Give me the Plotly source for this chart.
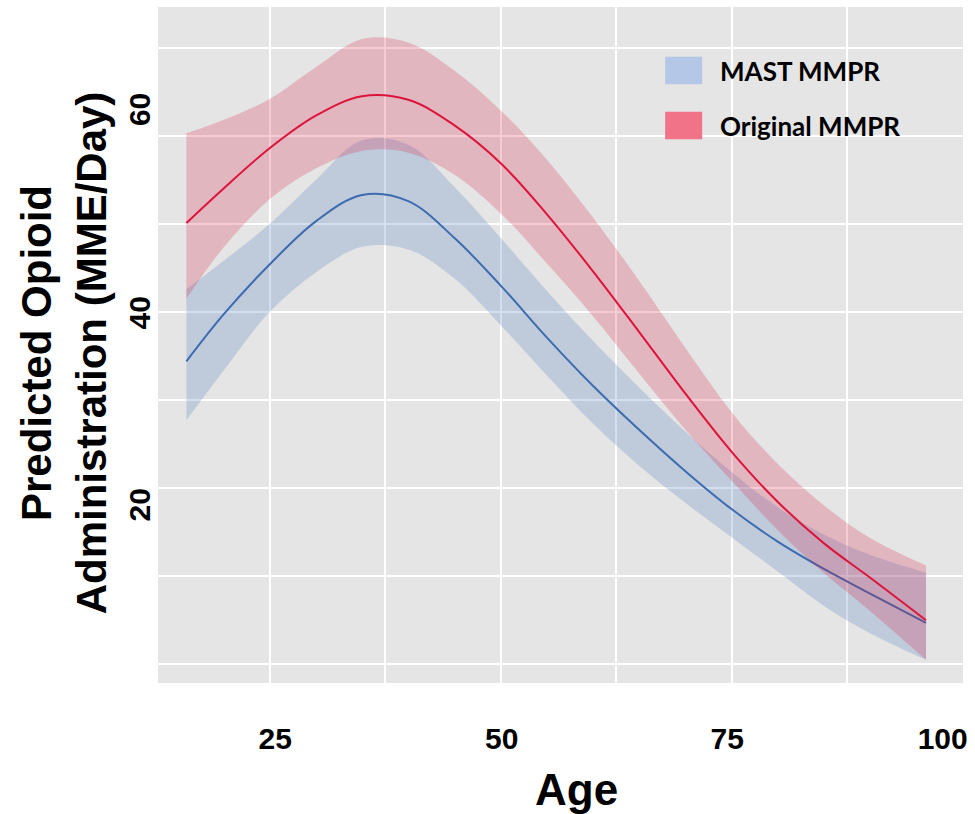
import plotly.graph_objects as go

# ---------------- data ----------------
AGE = [16, 20, 25, 30, 35, 40, 45, 50, 55, 60, 65, 70, 75, 80, 85, 90, 96]

ORIG_FIT = [50.1, 54.0, 58.6, 62.3, 64.5, 64.1, 61.2, 56.9, 51.1, 44.6, 37.7, 30.7, 24.1, 18.4, 13.7, 9.8, 5.0]
ORIG_HI = [60.3, 61.8, 64.2, 67.8, 71.0, 70.6, 67.4, 62.9, 57.3, 50.7, 43.5, 35.9, 28.6, 22.7, 18.0, 14.3, 11.2]
ORIG_LO = [41.5, 47.3, 52.8, 56.3, 58.3, 58.1, 55.6, 51.2, 45.5, 39.5, 33.0, 26.6, 20.8, 15.2, 10.3, 6.0, 0.5]

MAST_FIT = [34.4, 39.7, 45.4, 50.3, 53.3, 52.6, 48.4, 43.0, 37.1, 31.6, 26.6, 21.9, 17.6, 13.9, 10.8, 8.0, 4.7]
MAST_HI = [42.6, 45.8, 50.0, 55.0, 59.5, 59.0, 54.2, 48.4, 42.4, 36.7, 31.4, 26.4, 21.8, 17.8, 14.7, 12.4, 10.4]
MAST_LO = [27.7, 33.3, 40.0, 44.5, 47.4, 47.1, 43.8, 38.5, 32.8, 27.3, 22.5, 18.3, 14.4, 10.5, 6.6, 3.5, 0.5]

SERIES_NAMES = ["MAST MMPR", "Original MMPR"]

X_TICKS = [25, 50, 75, 100]
X_TICK_LABELS = ["25", "50", "75", "100"]
X_GRID = [25, 37.5, 50, 62.5, 75, 87.5, 100]
Y_TICKS = [20, 40, 60]
Y_TICK_LABELS = ["20", "40", "60"]
Y_GRID = [0, 10, 20, 30, 40, 50, 60, 70]

X_TITLE = "Age"
Y_TITLE = "Predicted Opioid<br>Administration (MME/Day)"

# ---------------- styles ----------------
X_RANGE = [12.93, 100.0]
Y_RANGE = [-2.13, 74.64]
X_LABEL_NUDGE = [0.6, 0.1, -0.5, -2.2]   # label placement in the reference
Y_LABEL_NUDGE = [-2.4, -0.6, 2.5]

RED_LINE = "#DC143C"
RED_FILL = "rgba(220,20,60,0.22)"
BLUE_LINE = "#3C6BB0"
BLUE_FILL = "rgba(70,120,190,0.24)"
RED_KEY = "#F07388"
BLUE_KEY = "#B4C7E7"
BG = "#E5E5E5"
FONT = "Liberation Sans, Arial, sans-serif"

fig = go.Figure()


def add_band(name, lo, hi, fit, fill, line):
    fig.add_trace(go.Scatter(x=AGE, y=hi, mode="lines", line=dict(width=0, shape="spline", color=fill),
                             showlegend=False, hoverinfo="skip", name=name + " upper"))
    fig.add_trace(go.Scatter(x=AGE, y=lo, mode="lines", line=dict(width=0, shape="spline", color=fill),
                             fill="tonexty", fillcolor=fill, showlegend=False, hoverinfo="skip",
                             name=name + " lower"))
    fig.add_trace(go.Scatter(x=AGE, y=fit, mode="lines", line=dict(width=2, shape="spline", color=line),
                             showlegend=False, name=name))


add_band(SERIES_NAMES[0], MAST_LO, MAST_HI, MAST_FIT, BLUE_FILL, BLUE_LINE)
add_band(SERIES_NAMES[1], ORIG_LO, ORIG_HI, ORIG_FIT, RED_FILL, RED_LINE)

fig.update_layout(
    width=975, height=814,
    margin=dict(l=158, r=9, t=7, b=131),
    paper_bgcolor="white", plot_bgcolor=BG,
    font=dict(family=FONT, color="black"),
    showlegend=False,
)

fig.update_xaxes(
    range=X_RANGE, showline=False, zeroline=False, ticks="",
    tickvals=[v + d for v, d in zip(X_TICKS, X_LABEL_NUDGE)], ticktext=X_TICK_LABELS,
    tickfont=dict(size=30, family=FONT, weight="bold", color="black"),
    ticklabelstandoff=35,
    showgrid=False,
    minor=dict(tickvals=X_GRID, showgrid=True, gridcolor="white", gridwidth=1.6, ticks=""),
)
fig.update_yaxes(
    range=Y_RANGE, showline=False, zeroline=False, ticks="",
    tickvals=[v + d for v, d in zip(Y_TICKS, Y_LABEL_NUDGE)], ticktext=Y_TICK_LABELS,
    tickangle=-90,
    tickfont=dict(size=30, family=FONT, weight="bold", color="black"),
    ticklabelstandoff=1,
    showgrid=False,
    minor=dict(tickvals=Y_GRID, showgrid=True, gridcolor="white", gridwidth=1.6, ticks=""),
)

# axis titles (placed as in the reference)
fig.add_annotation(text=X_TITLE, xref="paper", yref="paper", x=0.5204, y=-0.158,
                   xanchor="center", yanchor="middle", showarrow=False,
                   font=dict(size=44, family=FONT, weight="bold", color="black"))
fig.add_annotation(text=Y_TITLE, xref="paper", yref="paper", x=-0.1165, y=0.488,
                   xanchor="center", yanchor="middle", showarrow=False, textangle=-90,
                   font=dict(size=42, family=FONT, weight="bold", color="black"))

# legend key (drawn inside the panel as in the reference)
KEY_COLORS = [BLUE_KEY, RED_KEY]
KEY_Y = [0.906, 0.8247]
for name, col, yc in zip(SERIES_NAMES, KEY_COLORS, KEY_Y):
    fig.add_shape(type="rect", xref="paper", yref="paper", x0=0.630, x1=0.676,
                  y0=yc - 0.0204, y1=yc + 0.0204, fillcolor=col, line=dict(width=0))
    fig.add_annotation(text=name, xref="paper", yref="paper", x=0.6955, y=yc,
                       xanchor="left", yanchor="middle", showarrow=False,
                       font=dict(size=26, family="Lato, Carlito, Calibri, sans-serif", weight="bold", color="black"))

fig.write_html("out.html")
